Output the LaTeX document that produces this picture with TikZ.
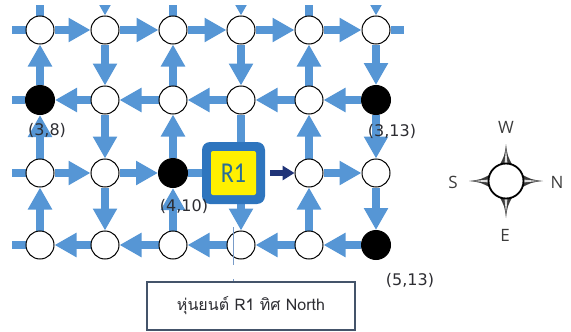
\documentclass[tikz,border=0pt]{standalone}
\usepackage{fontspec}
\usetikzlibrary{arrows.meta}
\newfontfamily\lblfont{DejaVu Sans}
\newfontfamily\boxfont{Carlito}
\newfontfamily\thaifont[Script=Thai]{Loma}
\newfontfamily\cmpfont{Open Sans}
\definecolor{flowblue}{RGB}{86,150,213}
\definecolor{navy}{RGB}{32,52,120}
\definecolor{frameblue}{RGB}{46,117,190}
\definecolor{tagyellow}{RGB}{255,240,0}
\definecolor{tagtext}{RGB}{40,110,150}
\definecolor{notefr}{RGB}{68,84,106}
\definecolor{inkgray}{RGB}{45,45,50}
\definecolor{guide}{RGB}{120,155,200}
\definecolor{cmpgray}{RGB}{60,60,60}
\pgfdeclarelayer{bg}
\pgfsetlayers{bg,main}
\tikzset{
  cell/.style={circle, draw=black, line width=1pt, fill=white, minimum size=28pt, inner sep=0pt},
  goal/.style={cell, fill=black, minimum size=29pt},
  flow/.style={draw=flowblue, line width=8pt, -{Triangle[width=23pt,length=22pt]}},
  bar/.style={draw=flowblue, line width=8pt},
  navyflow/.style={draw=navy, line width=6pt, -{Triangle[width=14pt,length=12pt]}},
  lbl/.style={font=\lblfont\fontsize{16}{16}\selectfont, text=inkgray, inner sep=0pt},
  r1frame/.style={fill=frameblue, rounded corners=8pt, minimum width=63pt, minimum height=62pt, inner sep=0pt},
  r1tag/.style={fill=tagyellow, rounded corners=2pt, minimum width=45pt, minimum height=44pt, inner sep=0pt,
    text=tagtext, font=\boxfont\fontsize{24}{24}\selectfont},
  note/.style={draw=notefr, line width=1.2pt, fill=white, minimum width=208pt, minimum height=48pt, inner sep=0pt,
    text=inkgray, font=\thaifont\fontsize{16}{16}\selectfont},
  guideline/.style={draw=guide, line width=1.3pt, dash pattern=on 38pt off 14pt on 4pt off 23pt, dash phase=56pt},
  cmpring/.style={circle, draw=black, line width=1.8pt, fill=white, minimum size=35pt, inner sep=0pt},
  cmplbl/.style={font=\cmpfont\fontsize{17}{17}\selectfont, text=cmpgray, inner sep=0pt}
}
\begin{document}
\begin{tikzpicture}[x=1pt, y=-1pt]
\useasboundingbox (0,0) rectangle (571,332);

% grid cells: rows at y = 30, 100, 173, 245; columns at x = 40 ... 376
\node[cell] (n00) at (40,30) {};
\node[cell] (n01) at (105,30) {};
\node[cell] (n02) at (173,30) {};
\node[cell] (n03) at (241,30) {};
\node[cell] (n04) at (309,30) {};
\node[cell] (n05) at (376,30) {};

\node[goal] (n10) at (40,100) {};
\node[cell] (n11) at (105,100) {};
\node[cell] (n12) at (173,100) {};
\node[cell] (n13) at (241,100) {};
\node[cell] (n14) at (309,100) {};
\node[goal] (n15) at (376,100) {};

\node[cell] (n20) at (40,173) {};
\node[cell] (n21) at (105,173) {};
\node[goal] (n22) at (173,173) {};
\node[cell] (n24) at (309,173) {};
\node[cell] (n25) at (376,173) {};

\node[cell] (n30) at (40,245) {};
\node[cell] (n31) at (105,245) {};
\node[cell] (n32) at (173,245) {};
\node[cell] (n33) at (241,245) {};
\node[cell] (n34) at (309,245) {};
\node[goal] (n35) at (376,245) {};

% robot R1
\node[r1frame] (r1) at (233.5,173) {};
\node[r1tag] (tag) at (r1) {\scalebox{1}[1.2]{R1}};

% ends of the streets leaving the drawn area
\coordinate (t0) at (40,-20);
\coordinate (t1) at (105,-20);
\coordinate (t2) at (173,-20);
\coordinate (t3) at (241,-20);
\coordinate (t4) at (309,-20);
\coordinate (t5) at (376,-20);
\coordinate (e0) at (-20,30);
\coordinate (e1) at (-20,100);
\coordinate (e2) at (-20,173);
\coordinate (e3) at (-20,245);
\coordinate (w0) at (404,30);

\begin{pgfonlayer}{bg}
  \begin{scope}
    \clip (12,5) rectangle (420,332);
    \draw[bar] (n00) -- (t0);
    \draw[flow] (t1) -- (n01);
    \draw[bar] (n02) -- (t2);
    \draw[flow] (t3) -- (n03);
    \draw[bar] (n04) -- (t4);
    \draw[flow] (t5) -- (n05);
    \draw[bar] (e0) -- (n00);
    \draw[bar] (n10) -- (e1);
    \draw[bar] (e2) -- (n20);
    \draw[bar] (n30) -- (e3);
    \draw[bar] (n05) -- (w0);
  \end{scope}

  % row 0: eastbound
  \draw[flow] (n00) -- (n01);
  \draw[flow] (n01) -- (n02);
  \draw[flow] (n02) -- (n03);
  \draw[flow] (n03) -- (n04);
  \draw[flow] (n04) -- (n05);
  % row 1: westbound
  \draw[flow] (n11) -- (n10);
  \draw[flow] (n12) -- (n11);
  \draw[flow] (n13) -- (n12);
  \draw[flow] (n14) -- (n13);
  \draw[flow] (n15) -- (n14);
  % row 2: eastbound
  \draw[flow] (n20) -- (n21);
  \draw[flow] (n21) -- (n22);
  \draw[bar] (n22) -- (r1);
  \draw[flow] (n24) -- (n25);
  % row 3: westbound
  \draw[flow] (n31) -- (n30);
  \draw[flow] (n32) -- (n31);
  \draw[flow] (n33) -- (n32);
  \draw[flow] (n34) -- (n33);
  \draw[flow] (n35) -- (n34);
  % columns between rows 0 and 1
  \draw[flow] (n10) -- (n00);
  \draw[flow] (n01) -- (n11);
  \draw[flow] (n12) -- (n02);
  \draw[flow] (n03) -- (n13);
  \draw[flow] (n14) -- (n04);
  \draw[flow] (n05) -- (n15);
  % columns between rows 1 and 2
  \draw[flow] (n20) -- (n10);
  \draw[flow] (n11) -- (n21);
  \draw[flow] (n22) -- (n12);
  \draw[bar] (n13) -- (n13 |- r1.north);
  \draw[flow] (n24) -- (n14);
  \draw[flow] (n15) -- (n25);
  % columns between rows 2 and 3
  \draw[flow] (n30) -- (n20);
  \draw[flow] (n21) -- (n31);
  \draw[flow] (n32) -- (n22);
  \draw[flow] (r1.south -| n33) -- (n33);
  \draw[flow] (n34) -- (n24);
  \draw[flow] (n25) -- (n35);
\end{pgfonlayer}

% heading of R1
\draw[navyflow] ([xshift=5pt]r1.east) -- (n24);

% coordinates of the marked cells
\node[lbl] (l38) at (47,130) {(3,8)};
\node[lbl] (l313) at (392,131) {(3,13)};
\node[lbl] (l410) at (184,206) {(4,10)};
\node[lbl] (l513) at (410,280) {(5,13)};

% caption box with its leader
\node[note] (note) at (251,306) {หุ่นยนต์ R1 ทิศ North};
\draw[guideline] (r1.south) -- (r1.south |- note.north);

% compass rose
\foreach \a in {0,90,180,270} {
  \begin{scope}[shift={(506,181)}, rotate=\a]
    \fill[cmpgray] (0,-37) .. controls (-1.5,-25) .. (-7,-15) -- (7,-15) .. controls (1.5,-25) .. (0,-37) -- cycle;
    \fill[white!75!gray] (0,-33) -- (-1.4,-18) -- (1.4,-18) -- cycle;
  \end{scope}
}
\node[cmpring] (cmp) at (506,181) {};
\node[cmplbl] (cw) at (506,127) {W};
\node[cmplbl] (cs) at (453,182) {S};
\node[cmplbl] (cn) at (557,182) {N};
\node[cmplbl] (ce) at (505,235) {E};
\end{tikzpicture}
\end{document}
